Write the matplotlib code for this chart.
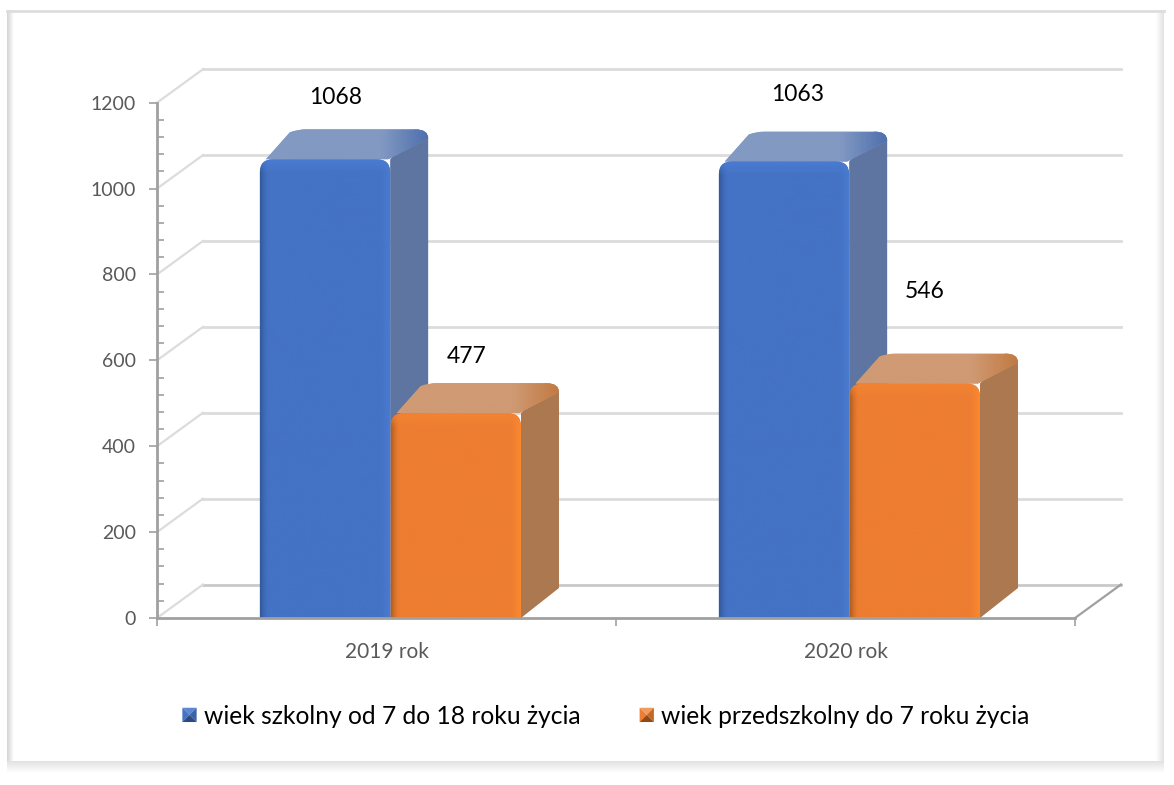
import numpy as np
import matplotlib
matplotlib.use("Agg")
import matplotlib.pyplot as plt
from matplotlib.colors import to_rgb
from matplotlib.legend_handler import HandlerBase
from matplotlib.patches import Patch, PathPatch, Polygon
from matplotlib.path import Path

categories = ["2019 rok", "2020 rok"]
series_names = ["wiek szkolny od 7 do 18 roku życia", "wiek przedszkolny do 7 roku życia"]
school_age = [1068, 1063]
preschool_age = [477, 546]

W, H = 1174, 785
# plot box in pixels
LEFT, RIGHT, TOP, BOTTOM = 157, 1075, 102.7, 618
PX = 2 / (RIGHT - LEFT)        # category units per pixel
PY = 1200 / (BOTTOM - TOP)     # value units per pixel

plt.rcParams["font.family"] = ["Lato", "DejaVu Sans"]

fig = plt.figure(figsize=(W / 100, H / 100), dpi=100, facecolor="white")


def strip(ax, extent, start, end, horizontal):
    # grey frame band that fades into white
    c0, c1 = np.array(to_rgb(start)), np.array(to_rgb(end))
    t = np.linspace(0, 1, 24)
    img = c0 + (c1 - c0) * t[:, None]
    img = img[None, :, :] if horizontal else img[:, None, :]
    ax.imshow(img, extent=extent, aspect="auto", interpolation="bilinear")


# frame around the picture
bg = fig.add_axes([0, 0, 1, 1], zorder=0)
strip(bg, (7, 14, 773, 10), "#d4d4d4", "#ffffff", True)
strip(bg, (1156, 1164, 773, 10), "#ffffff", "#e2e2e2", True)
strip(bg, (7, 1164, 761, 773), "#ffffff", "#e2e2e2", False)
bg.plot([7, 1164], [11, 11], color="#dddddd", lw=2)
bg.set_xlim(0, W)
bg.set_ylim(H, 0)
bg.axis("off")

ax = fig.add_axes([LEFT / W, 1 - BOTTOM / H, (RIGHT - LEFT) / W, (BOTTOM - TOP) / H], zorder=1)
ax.patch.set_visible(False)
ax.set_xlim(0, 2)
ax.set_ylim(0, 1200)

# back wall and side wall of the 3D box
wall_dx, wall_dy = 46 * PX, 33.5 * PY
for v in range(0, 1201, 200):
    shade = "#c9c9c9" if v == 0 else "#dcdcdc"
    ax.plot([wall_dx, 2 + wall_dx], [v + wall_dy, v + wall_dy], color=shade, lw=2, clip_on=False, zorder=1)
    ax.plot([0, wall_dx], [v, v + wall_dy], color="#dcdcdc", lw=1.6, clip_on=False, zorder=1)
ax.plot([2, 2 + wall_dx], [0, wall_dy], color="#a0a0a0", lw=1.6, clip_on=False, zorder=1)


def shaded_front(x0, x1, h, base, left_col, right_col, top_col):
    # rounded front face with bevel shading on its edges
    rx, ry = 13 * PX, 13 * PY
    verts = [(x0, 0), (x0, h - ry), (x0, h), (x0 + rx, h), (x1 - rx, h), (x1, h), (x1, h - ry), (x1, 0), (x0, 0)]
    codes = [Path.MOVETO, Path.LINETO, Path.CURVE3, Path.CURVE3, Path.LINETO, Path.CURVE3, Path.CURVE3, Path.LINETO, Path.CLOSEPOLY]
    clip = PathPatch(Path(verts, codes), facecolor=base, edgecolor="none", zorder=3, clip_on=False)
    ax.add_patch(clip)

    nx, ny = 130, max(int(h / PY), 2)
    img = np.ones((ny, nx, 3)) * np.array(to_rgb(base))
    for i in range(8):
        a = (1 - i / 8) ** 1.5
        img[:, i] = img[:, i] * (1 - a) + np.array(to_rgb(left_col)) * a
    for i in range(10):
        a = (1 - i / 10) * 0.9
        img[:, nx - 1 - i] = img[:, nx - 1 - i] * (1 - a) + np.array(to_rgb(right_col)) * a
    for j in range(14):
        a = (1 - j / 14) * 0.8
        img[j] = img[j] * (1 - a) + np.array(to_rgb(top_col)) * a
    im = ax.imshow(img, extent=(x0, x1, 0, h), aspect="auto", zorder=3.1)
    im.set_clip_path(clip)


def bar3d(x0, width, h, base, left_col, right_col, top_col, side_col, lid_col, lid_edge):
    x1 = x0 + width
    dx, dy = 38 * PX, 30 * PY
    rx, ry = 13 * PX, 9 * PY
    side = [(x1, 0), (x1 + dx, dy), (x1 + dx, h + dy - ry), (x1 + dx, h + dy), (x1 + dx - rx, h + dy), (x1, h)]
    codes = [Path.MOVETO, Path.LINETO, Path.LINETO, Path.CURVE3, Path.CURVE3, Path.LINETO]
    ax.add_patch(PathPatch(Path(side, codes), facecolor=side_col, edgecolor="none", zorder=2, clip_on=False))
    lid = [(x0 + 6 * PX, h), (x0 + dx - 8 * PX, h + dy - 3 * PY), (x0 + dx, h + dy), (x0 + dx + 8 * PX, h + dy),
           (x1 + dx - rx, h + dy), (x1 + dx, h + dy), (x1 + dx, h + dy - ry), (x1 - 2 * PX, h)]
    lid_patch = PathPatch(Path(lid, [Path.MOVETO, Path.LINETO, Path.CURVE3, Path.CURVE3, Path.LINETO, Path.CURVE3, Path.CURVE3, Path.LINETO]),
                          facecolor=lid_col, edgecolor="none", zorder=2.1, clip_on=False)
    ax.add_patch(lid_patch)
    # darker band at the right of the lid
    c0, c1 = np.array(to_rgb(lid_col)), np.array(to_rgb(lid_edge))
    t = np.linspace(0, 1, 60)[None, :, None]
    grad = c0 + (c1 - c0) * np.clip((t - 0.72) / 0.28, 0, 1)
    im = ax.imshow(grad, extent=(x0, x1 + dx, h, h + dy), aspect="auto", zorder=2.2)
    im.set_clip_path(lid_patch)
    shaded_front(x0, x1, h, base, left_col, right_col, top_col)


bar_w = 0.284
blue = ("#4472c4", "#345a9e", "#4a7cd2", "#4b7ed6", "#5d75a0", "#8299c2", "#4f70ae")
orange = ("#ed7d31", "#b5601f", "#ff8a2e", "#f58534", "#ab7850", "#cf9a74", "#c27a42")
for i in range(len(categories)):
    bar3d(i + 0.224, bar_w, school_age[i], *blue)
    bar3d(i + 0.509, bar_w, preschool_age[i], *orange)

# value labels sit well above the bars in the original
label_x = [0.39, 1.396, 0.675, 1.673]
label_y = [1213, 1218, 608, 761]
for x, y, v in zip(label_x, label_y, school_age + preschool_age):
    ax.text(x, y, str(v), ha="center", va="center", fontsize=16.5, color="black", zorder=5, clip_on=False)

ax.set_xlim(0, 2)
ax.set_ylim(0, 1200)
for s in ("top", "right"):
    ax.spines[s].set_visible(False)
for s in ("left", "bottom"):
    ax.spines[s].set_color("#a0a0a0")
    ax.spines[s].set_linewidth(2)
    ax.spines[s].set_zorder(4)

ax.set_yticks(range(0, 1201, 200))
ax.set_yticks(range(0, 1201, 40), minor=True)
ax.tick_params(axis="y", which="major", direction="out", length=6, width=1.2, color="#a0a0a0",
               labelsize=14, labelcolor="#595959", pad=9)
ax.tick_params(axis="y", which="minor", direction="in", length=5, width=1.2, color="#a0a0a0")
ax.set_xticks([0, 1, 2])
ax.set_xticklabels([])
ax.set_xticks([0.5, 1.5], minor=True)
ax.set_xticklabels(categories, minor=True)
ax.tick_params(axis="x", which="major", direction="out", length=6, width=1.2, color="#a0a0a0")
ax.tick_params(axis="x", which="minor", length=0, labelsize=15, labelcolor="#595959", pad=17)


class BevelHandler(HandlerBase):
    # small square legend key with four bevelled sides
    def create_artists(self, legend, orig, xd, yd, width, height, fontsize, trans):
        light, mid, dark, front = orig.bevel
        x0, y0 = -xd, -yd + (height - width) / 2
        x1, y1 = x0 + width, y0 + width
        cx, cy = (x0 + x1) / 2, (y0 + y1) / 2
        tris = [([(x0, y1), (x1, y1), (cx, cy)], mid),
                ([(x0, y0), (x0, y1), (cx, cy)], light),
                ([(x1, y0), (x1, y1), (cx, cy)], front),
                ([(x0, y0), (x1, y0), (cx, cy)], dark)]
        return [Polygon(p, closed=True, facecolor=c, edgecolor="none", transform=trans) for p, c in tris]


h1 = Patch(label=series_names[0])
h1.bevel = ("#4472c4", "#5f87cf", "#2a4a80", "#3a62a8")
h2 = Patch(label=series_names[1])
h2.bevel = ("#ed7d31", "#f09a5c", "#8f4a18", "#c9661f")
fig.legend(handles=[h1, h2], handler_map={Patch: BevelHandler()}, loc="center", bbox_to_anchor=(606 / W, 1 - 716 / H),
           ncols=2, frameon=False, fontsize=17.7, handlelength=0.58, handleheight=0.7, handletextpad=0.3, columnspacing=2.4)

fig.savefig("out.png", dpi=100)
